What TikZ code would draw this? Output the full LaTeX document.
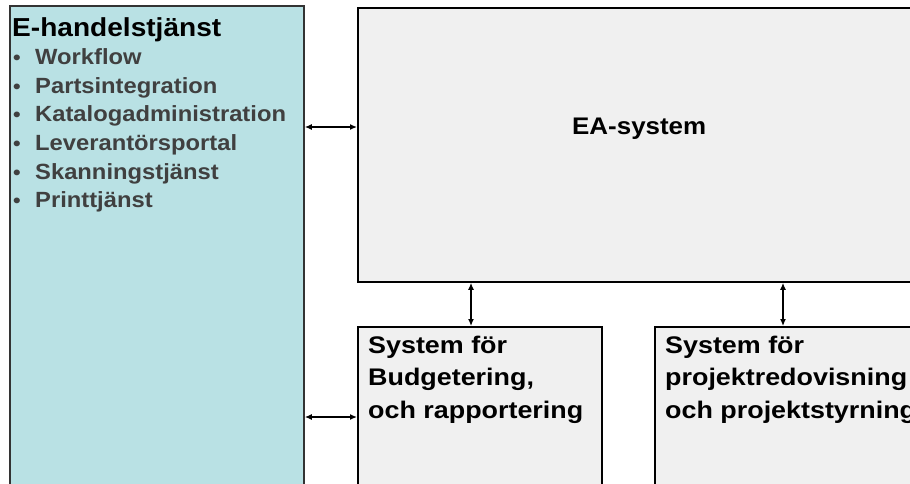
\documentclass[tikz,border=0pt]{standalone}
\usepackage{fontspec}
\setmainfont{Liberation Sans}[FakeStretch=1.08]
\newfontfamily\widefont{Liberation Sans}[FakeStretch=1.12]
\usetikzlibrary{arrows.meta,calc}
\definecolor{tealfill}{RGB}{185,225,228}
\definecolor{greyfill}{RGB}{240,240,240}
\definecolor{itemgrey}{RGB}{64,64,64}
\tikzset{
  sysbox/.style={draw=black, line width=1.8pt, fill=greyfill, rectangle, inner sep=0pt, anchor=north west},
  servicebox/.style={draw=black!80, line width=1.8pt, fill=tealfill, rectangle, inner sep=0pt, anchor=north west},
  link/.style={line width=1.3pt, {Latex[length=7pt,width=6pt]}-{Latex[length=7pt,width=6pt]}},
  heading/.style={font=\bfseries\fontsize{26}{30}\selectfont, anchor=base west, inner sep=0pt},
  item/.style={font=\bfseries\fontsize{22}{26}\selectfont, text=itemgrey, anchor=base west, inner sep=0pt},
  bulletmark/.style={item, font=\bfseries\fontsize{20}{24}\selectfont},
  boxtext/.style={font=\widefont\bfseries\fontsize{24}{32.5}\selectfont, anchor=base west, inner sep=0pt, align=left},
}
\begin{document}
\begin{tikzpicture}[x=1pt,y=-1pt]
  \useasboundingbox (0,0) rectangle (910,483);
  % boxes
  \node[servicebox, minimum width=294pt, minimum height=520pt] (eh) at (9,5) {};
  \node[sysbox, minimum width=580pt, minimum height=274pt] (ea) at (357,7) {};
  \node[sysbox, minimum width=244pt, minimum height=200pt] (bud) at (357,326) {};
  \node[sysbox, minimum width=300pt, minimum height=200pt] (proj) at (654,326) {};
  % texts of the service box
  \node[heading] (ehtitle) at (12,36) {E-handelstjänst};
  \foreach \t [count=\i] in {Workflow,Partsintegration,Katalogadministration,Leverantörsportal,Skanningstjänst,Printtjänst}{
    \node[bulletmark] (bul\i) at (13,{36+28.6*\i}) {•};
    \node[item] (itm\i) at (35,{36+28.6*\i}) {\t};
  }
  % system texts (anchored at the baseline of the last line)
  \node[font=\bfseries\fontsize{24}{28}\selectfont, anchor=base west, inner sep=0pt] (eatext) at (572,134) {EA-system};
  \node[boxtext] (budtext) at (368,418) {System för\\Budgetering,\\och rapportering};
  \node[boxtext] (projtext) at (665,418) {System för\\projektredovisning\\och projektstyrning};
  % connectors
  \coordinate (p1) at ($(ea.north west)+(0,120)$);
  \coordinate (p2) at ($(bud.north west)+(0,91)$);
  \coordinate (p3) at ($(bud.north west)+(114,0)$);
  \coordinate (p4) at ($(proj.north west)+(129,0)$);
  \draw[link] (eh.east |- p1) -- (p1);
  \draw[link] (eh.east |- p2) -- (p2);
  \draw[link] (ea.south -| p3) -- (p3);
  \draw[link] (ea.south -| p4) -- (p4);
\end{tikzpicture}
\end{document}
